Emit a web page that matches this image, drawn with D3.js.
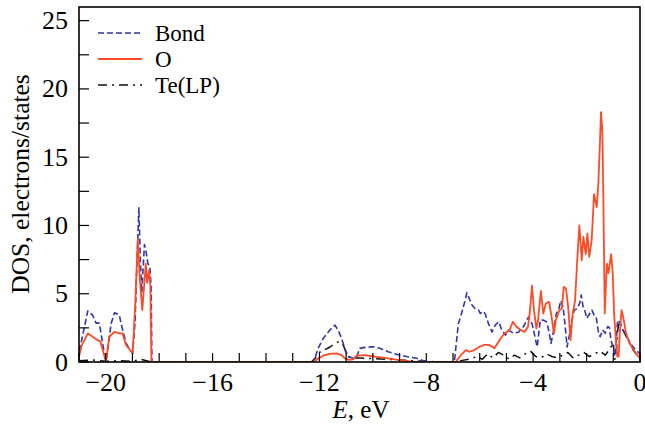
<!DOCTYPE html>
<html><head><meta charset="utf-8">
<script src="https://cdn.jsdelivr.net/npm/d3@7"></script>
<style>body{margin:0;background:#fff}svg{display:block}</style>
</head><body><svg id="c" width="645" height="427"></svg>
<script>
const bondE=[-21.0,-20.9,-20.67,-20.49,-20.36,-20.24,-20.15,-20.05,-19.99,-19.9,-19.8,-19.67,-19.49,-19.43,-19.24,-19.1,-18.99,-18.9,-18.85,-18.76,-18.7,-18.65,-18.55,-18.5,-18.42,-18.35,-18.3,-18.27,-12.25,-12.17,-12.05,-11.86,-11.61,-11.42,-11.3,-11.17,-11.05,-10.93,-10.74,-10.6,-10.49,-10.3,-9.99,-9.74,-9.43,-9.11,-8.74,-8.36,-8.12,-7.9,-6.95,-6.8,-6.68,-6.55,-6.48,-6.42,-6.29,-6.17,-6.04,-5.98,-5.88,-5.8,-5.67,-5.54,-5.42,-5.29,-5.17,-5.04,-4.92,-4.73,-4.54,-4.36,-4.17,-4.04,-3.92,-3.85,-3.73,-3.63,-3.5,-3.42,-3.33,-3.23,-3.13,-3.04,-2.96,-2.88,-2.8,-2.73,-2.63,-2.55,-2.46,-2.36,-2.26,-2.2,-2.13,-2.07,-1.99,-1.88,-1.8,-1.71,-1.64,-1.55,-1.49,-1.4,-1.3,-1.21,-1.14,-1.09,-1.01,-0.96,-0.91,-0.84,-0.74,-0.64,-0.55,-0.42,-0.3,-0.17,0];
const bondV=[0.8,1.6,3.75,3.43,2.85,2.85,1.8,0.6,0.1,1.2,2.8,3.6,3.45,2.85,1.4,0.9,0.65,3.0,6.1,11.3,7.3,5.1,8.6,8.2,7.2,7.0,5.5,0,0,0.27,1.0,1.73,2.34,2.7,2.34,1.73,1.0,0.4,0.27,0.4,1.0,1.07,1.12,1.0,0.75,0.56,0.4,0.27,0.1,0,0,2.8,3.55,4.5,5.07,4.78,4.17,3.9,3.8,3.55,3.7,3.55,2.8,2.2,2.7,2.95,2.34,1.97,2.34,2.1,2.2,2.6,3.3,2.8,1.73,1.1,3.07,3.07,2.95,2.34,1.36,2.34,3.55,3.9,4.5,4.04,2.6,1.1,2.1,3.07,3.8,3.9,4.3,4.9,4.04,3.8,3.2,3.55,3.8,3.4,3.3,2.1,1.85,2.34,2.1,2.6,2.5,1.6,1.1,0.4,0.7,3.07,2.85,2.34,2.1,1.6,1.2,0.9,0.6];
const oE=[-21.0,-20.9,-20.67,-20.49,-20.3,-20.2,-20.1,-19.99,-19.87,-19.67,-19.49,-19.37,-19.24,-19.1,-18.99,-18.9,-18.8,-18.72,-18.63,-18.5,-18.45,-18.38,-18.33,-18.29,-12.2,-12.17,-11.86,-11.61,-11.36,-11.17,-11.05,-10.9,-10.74,-10.61,-10.3,-9.93,-9.55,-9.18,-8.8,-8.5,-6.9,-6.71,-6.52,-6.39,-6.2,-6.02,-5.83,-5.64,-5.45,-5.26,-5.07,-4.88,-4.76,-4.63,-4.51,-4.32,-4.19,-4.13,-4.04,-3.97,-3.88,-3.82,-3.71,-3.62,-3.52,-3.4,-3.31,-3.22,-3.15,-3.02,-2.93,-2.85,-2.77,-2.69,-2.6,-2.52,-2.43,-2.35,-2.27,-2.18,-2.12,-2.03,-1.97,-1.9,-1.81,-1.72,-1.62,-1.56,-1.5,-1.46,-1.41,-1.37,-1.32,-1.24,-1.18,-1.08,-1.02,-0.97,-0.9,-0.85,-0.8,-0.75,-0.69,-0.63,-0.52,-0.44,-0.31,-0.19,-0.06,0];
const oV=[0.4,1.2,2.1,1.85,1.6,1.5,0.8,0,1.85,2.2,2.1,2.1,1.25,0.9,0.65,4.0,9.0,6.0,3.8,7.2,5.8,6.7,5.6,0,0,0.1,0.46,0.6,0.63,0.5,0.27,0.15,0.2,0.46,0.5,0.4,0.3,0.2,0.1,0,0,0.5,0.87,0.75,0.87,1.1,1.25,1.25,1.0,1.6,2.1,2.34,2.95,2.6,2.4,2.2,2.6,3.55,5.6,3.8,2.46,3.0,5.2,3.55,4.3,4.4,3.3,2.1,3.07,3.8,3.9,5.5,5.4,4.04,1.6,3.55,4.5,7.45,10.0,7.45,9.16,7.9,9.4,7.7,8.9,12.3,11.35,13.05,16.0,18.3,17.0,11.8,3.55,7.2,6.5,7.9,6.5,3.55,1.6,0.4,0.4,2.34,3.8,3.3,2.1,1.6,1.1,0.75,0.4,0.3];
const teE=[-21,-20.5,-20,-19.5,-19,-18.7,-18.3,-12.3,-12.1,-11.95,-11.8,-11.6,-11.4,-11.25,-11.1,-10.95,-10.8,-10.5,-10.0,-9.5,-9.0,-8.5,-8.0,-7.5,-6.9,-6.7,-6.4,-6.1,-5.9,-5.7,-5.5,-5.3,-5.1,-4.9,-4.7,-4.5,-4.3,-4.1,-3.9,-3.7,-3.5,-3.3,-3.1,-2.9,-2.7,-2.5,-2.3,-2.1,-1.9,-1.7,-1.5,-1.3,-1.15,-1.0,-0.95,-0.9,-0.84,-0.78,-0.7,-0.6,-0.5,-0.4,-0.3,-0.15,0];
const teV=[0.1,0.15,0.05,0.1,0.05,0.2,0,0,0.4,0.8,0.9,1.1,1.4,1.5,1.2,0.4,0.3,0.3,0.25,0.2,0.15,0.1,0.05,0,0,0.1,0.2,0.4,0.2,0.6,0.3,0.7,0.5,0.2,0.5,0.3,0.6,0.8,0.4,0.3,0.6,0.4,0.3,0.5,0.7,0.3,0.5,0.7,0.4,0.6,0.8,0.5,0.9,1.4,0.2,0.3,2.2,3.0,2.6,2.2,1.8,1.4,1.0,0.6,0.3];
const xTickLabels=[-20,-16,-12,-8,-4,0];
const yTickLabels=[0,5,10,15,20,25];
const legendNames=["Bond","O","Te(LP)"];

const svg=d3.select("#c");
const L=79,R=640,T=7,B=362;
const x=d3.scaleLinear().domain([-21,0]).range([L,R]);
const y=d3.scaleLinear().domain([0,26]).range([B,T]);
const font="'Liberation Serif','Times New Roman',serif";
svg.append("clipPath").attr("id","cp").append("rect").attr("x",L).attr("y",T).attr("width",R-L).attr("height",B-T);
const g=svg.append("g").attr("clip-path","url(#cp)");
const line=d3.line().x(d=>x(d[0])).y(d=>y(d[1]));
const series=[
 {E:bondE,V:bondV,color:"#3236a6",dash:"6,3",w:1.6},
 {E:oE,V:oV,color:"#ff4a26",dash:null,w:1.8},
 {E:teE,V:teV,color:"#111",dash:"9,5,2,5",w:1.5}
];
[series[2],series[0],series[1]].forEach(s=>{
 g.append("path").datum(s.E.map((e,i)=>[e,s.V[i]])).attr("d",line)
  .attr("fill","none").attr("stroke",s.color).attr("stroke-width",s.w)
  .attr("stroke-dasharray",s.dash).attr("stroke-linejoin","round");
});
const ax=svg.append("g");
d3.range(-21,0.01,1).forEach(v=>{
 ax.append("line").attr("x1",x(v)).attr("x2",x(v)).attr("y1",B).attr("y2",B-9).attr("stroke","#000").attr("stroke-width",1.2);
});
d3.range(0,26,2.5).forEach(v=>{
 ax.append("line").attr("x1",L).attr("x2",L+10).attr("y1",y(v)).attr("y2",y(v)).attr("stroke","#000").attr("stroke-width",1.2);
});
ax.append("rect").attr("x",L).attr("y",T).attr("width",R-L).attr("height",B-T).attr("fill","none").attr("stroke","#000").attr("stroke-width",1.6);
xTickLabels.forEach(v=>{
 ax.append("text").attr("x",x(v)).attr("y",B+29).attr("text-anchor","middle").attr("font-family",font).attr("font-size",26)
  .text(v<0?"\u2212"+Math.abs(v):String(v));
});
yTickLabels.forEach(v=>{
 ax.append("text").attr("x",L-11).attr("y",y(v)+8.5).attr("text-anchor","end").attr("font-family",font).attr("font-size",26).text(String(v));
});
const xt=ax.append("text").attr("x",361).attr("y",418).attr("text-anchor","middle").attr("font-family",font).attr("font-size",25);
xt.append("tspan").attr("font-style","italic").text("E");
xt.append("tspan").text(", eV");
ax.append("text").attr("transform","translate(29,184) rotate(-90)").attr("text-anchor","middle").attr("font-family",font).attr("font-size",25.5).text("DOS, electrons/states");
const lg=svg.append("g");
const lys=[33,59,85];
series.forEach((s,i)=>{
 lg.append("line").attr("x1",98).attr("x2",142).attr("y1",lys[i]).attr("y2",lys[i]).attr("stroke",s.color).attr("stroke-width",s.w).attr("stroke-dasharray",s.dash);
 lg.append("text").attr("x",155).attr("y",lys[i]+8).attr("font-family",font).attr("font-size",23).text(legendNames[i]);
});
</script></body></html>
